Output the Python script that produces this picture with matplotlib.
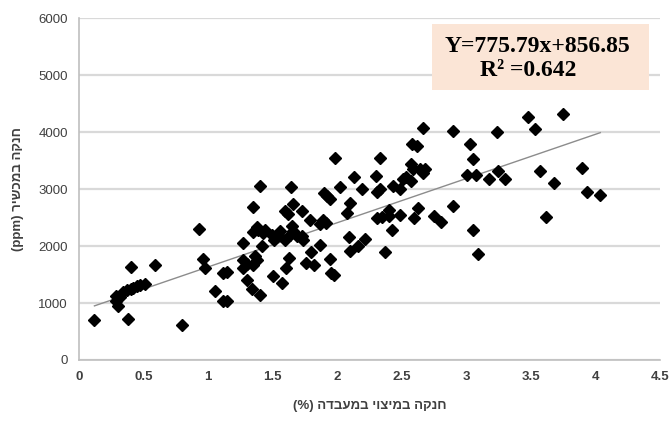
import matplotlib
matplotlib.use("Agg")
import matplotlib.pyplot as plt
import numpy as np

# lab extraction nitrate (%) vs device nitrate (ppm)
lab_pct = [
    0.12, 0.38, 0.80,
    0.29, 0.29, 0.305, 0.32, 0.345, 0.375, 0.40, 0.42, 0.45, 0.475, 0.51, 0.40, 0.59,
    0.93, 0.96, 0.98,
    1.055, 1.115, 1.145, 1.115, 1.145,
    1.275, 1.275, 1.275, 1.30, 1.34, 1.40, 1.35, 1.40, 1.35, 1.38, 1.39, 1.365,
    1.38, 1.35, 1.30, 1.415, 1.425, 1.445,
    1.50, 1.495, 1.51, 1.545, 1.56, 1.57, 1.605, 1.60, 1.62, 1.64, 1.63, 1.60,
    1.635, 1.65, 1.66, 1.66, 1.69, 1.725, 1.725, 1.74, 1.76, 1.79, 1.80, 1.82,
    1.868, 1.87, 1.895, 1.915, 1.90, 1.925, 1.945, 1.945, 1.955, 1.975, 1.985, 2.025,
    2.075, 2.10, 2.09, 2.10, 2.135, 2.165, 2.19, 2.22,
    2.30, 2.31, 2.335, 2.335, 2.31, 2.345, 2.37, 2.40, 2.40, 2.425, 2.43, 2.49,
    2.49, 2.515, 2.535, 2.57, 2.57, 2.58, 2.62, 2.59, 2.64, 2.68, 2.67, 2.60, 2.63, 2.665,
    2.755, 2.805, 2.895, 2.895,
    3.03, 3.05, 3.005, 3.08, 3.05, 3.095, 3.175, 3.24, 3.245, 3.305,
    3.48, 3.535, 3.57, 3.62, 3.685, 3.75, 3.895, 3.94, 4.04,
]
device_ppm = [
    700, 720, 615,
    1120, 1030, 945, 1110, 1200, 1220, 1250, 1265, 1295, 1320, 1335, 1640, 1665,
    2300, 1770, 1610,
    1205, 1035, 1030, 1520, 1545,
    2050, 1760, 1620, 1410, 1240, 1140, 2680, 3060, 2250, 2340, 2290, 1820,
    1750, 1670, 1680, 1995, 2230, 2290,
    1480, 2200, 2110, 2200, 2260, 1350, 1615, 2610, 2555, 3035, 1790, 2110,
    2200, 2345, 2260, 2730, 2170, 2610, 2170, 2100, 1700, 2465, 1900, 1670,
    2025, 2380, 2465, 2410, 2935, 2875, 2830, 1775, 1530, 1490, 3540, 3035,
    2585, 2760, 2160, 1905, 3210, 1995, 3005, 2125,
    3225, 2945, 3540, 2995, 2495, 2505, 1890, 2640, 2525, 2285, 3060, 2550,
    3005, 3170, 3215, 3435, 3140, 3785, 3755, 3345, 3345, 3360, 3275, 2495, 2670, 4080,
    2525, 2420, 2700, 4020,
    3795, 3535, 3255, 3240, 2280, 1860, 3170, 4000, 3315, 3180,
    4265, 4050, 3315, 2505, 3110, 4320, 3375, 2945, 2905,
]

slope, intercept = 775.79, 856.85
eq_line = "Y=775.79x+856.85"
r2_line = "R\u00b2 =0.642"

x_ticks = [0, 0.5, 1, 1.5, 2, 2.5, 3, 3.5, 4, 4.5]
x_tick_labels = ["0", "0.5", "1", "1.5", "2", "2.5", "3", "3.5", "4", "4.5"]
y_ticks = [0, 1000, 2000, 3000, 4000, 5000, 6000]

# Hebrew labels, reversed to visual order since matplotlib has no bidi
x_label = "(%) " + "חנקה במיצוי במעבדה"[::-1]
y_label = "(ppm) " + "חנקה במכשיר"[::-1]

tick_font = ["Liberation Sans Narrow", "Liberation Sans", "DejaVu Sans"]
grey = "#404040"

fig = plt.figure(figsize=(6.69, 4.24), dpi=100)
ax = fig.add_axes([0.118, 0.151, 0.868, 0.806])

ax.set_xlim(0, 4.5)
ax.set_ylim(0, 6000)
ax.set_xticks(x_ticks)
ax.set_xticklabels(x_tick_labels)
ax.set_yticks(y_ticks)
ax.grid(axis="y", color="#d9d9d9", lw=1.6, zorder=0)
ax.set_axisbelow(True)
for side in ("top", "right"):
    ax.spines[side].set_visible(False)
for side in ("left", "bottom"):
    ax.spines[side].set_color("#bfbfbf")
    ax.spines[side].set_linewidth(1.2)
ax.tick_params(length=0, pad=8, colors=grey, labelsize=9.5)
for lab in ax.get_xticklabels() + ax.get_yticklabels():
    lab.set_family(tick_font)
for lab in ax.get_xticklabels():
    lab.set_fontweight("bold")

ax.plot(lab_pct, device_ppm, ls="none", marker="D", ms=6.6, color="black", zorder=3)

xs = np.array([min(lab_pct), max(lab_pct)])
ax.plot(xs, slope * xs + intercept, color="#8c8c8c", lw=1.0, zorder=2)

# equation box
ax.add_patch(plt.Rectangle((2.736, 4736), 1.68, 1162, facecolor="#fbe5d6",
                           edgecolor="none", zorder=1))
ax.text(2.83, 5500, eq_line, fontsize=17, fontweight="bold",
        family=["Liberation Serif", "DejaVu Serif"], va="center", ha="left", zorder=4)
ax.text(3.11, 5090, r2_line, fontsize=17, fontweight="bold",
        family=["Liberation Serif", "DejaVu Serif"], va="center", ha="left", zorder=4)

ax.set_xlabel(x_label, fontsize=9.5, fontweight="bold", color=grey,
              family=["Liberation Sans", "DejaVu Sans"], labelpad=12)
ax.set_ylabel(y_label, fontsize=9.5, fontweight="bold", color=grey,
              family=["Liberation Sans", "DejaVu Sans"], labelpad=10)

fig.savefig("out.png", dpi=100)
plt.close(fig)
